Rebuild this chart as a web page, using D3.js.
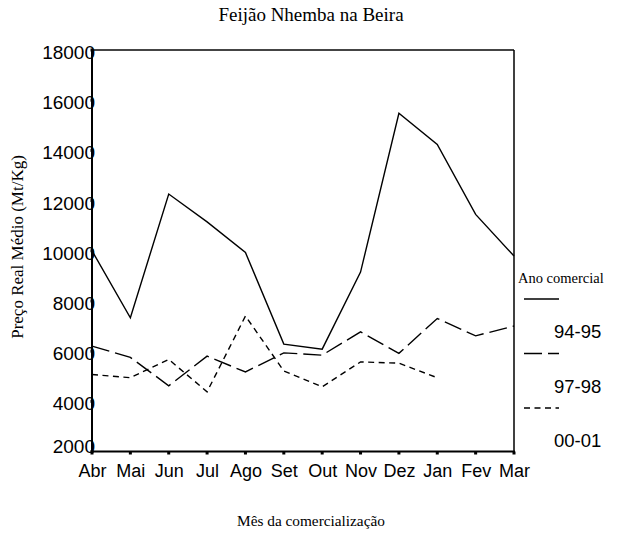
<!DOCTYPE html>
<html>
<head>
<meta charset="utf-8">
<script src="https://cdn.jsdelivr.net/npm/d3@7"></script>
<style>
  html, body { margin: 0; padding: 0; background: #fff; }
  svg { display: block; }
</style>
</head>
<body>
<svg id="chart" width="621" height="535"></svg>
<script>
const months = ["Abr","Mai","Jun","Jul","Ago","Set","Out","Nov","Dez","Jan","Fev","Mar"];
const seriesNames = ["94-95","97-98","00-01"];
const s9495 = [10000, 7330, 12260, 11150, 9930, 6280, 6080, 9150, 15480, 14240, 11450, 9790];
const s9798 = [6200, 5750, 4620, 5800, 5170, 5930, 5840, 6770, 5910, 7300, 6610, 7000];
const s0001 = [5070, 4940, 5670, 4380, 7400, 5210, 4580, 5570, 5520, 4940, null, null];
const yTicks = [2000, 4000, 6000, 8000, 10000, 12000, 14000, 16000, 18000];
const dashes = ["none", "18,6", "6,4.5"];

const titleText = "Feijão Nhemba na Beira";
const yTitle = "Preço Real Médio (Mt/Kg)";
const xTitle = "Mês da comercialização";
const legendTitle = "Ano comercial";

const svg = d3.select("#chart");
const L = 92, R = 514, T = 50, B = 451.5;

const x = d3.scalePoint().domain(months).range([L, R]);
const y = d3.scaleLinear().domain([2000, 18000]).range([B, T]);

const sans = "'Liberation Sans', Arial, sans-serif";
const serif = "'Liberation Serif', 'Times New Roman', serif";

// title
svg.append("text").attr("x", 311).attr("y", 21).attr("text-anchor", "middle")
  .attr("font-family", serif).attr("font-size", 19).text(titleText);

// frame
svg.append("line").attr("x1", L).attr("x2", R).attr("y1", T).attr("y2", T)
  .attr("stroke", "#444").attr("stroke-width", 2);
svg.append("line").attr("x1", R).attr("x2", R).attr("y1", T).attr("y2", B)
  .attr("stroke", "#000").attr("stroke-width", 1.5);

// lines
const allSeries = [s9495, s9798, s0001];
const line = d3.line()
  .defined(d => d.v != null)
  .x(d => x(d.m)).y(d => y(d.v));
allSeries.forEach((s, i) => {
  const data = months.map((m, j) => ({m, v: s[j]}));
  svg.append("path").datum(data).attr("d", line)
    .attr("fill", "none").attr("stroke", "#000").attr("stroke-width", 1.4)
    .attr("stroke-dasharray", dashes[i]);
});

// y axis
const yAxis = d3.axisLeft(y).tickValues(yTicks).tickSize(0).tickPadding(0).tickFormat(d3.format("d"));
const gy = svg.append("g").attr("transform", `translate(${L},0)`).call(yAxis);
gy.select(".domain").remove();
gy.selectAll("text").attr("font-family", sans).attr("font-size", 19).attr("fill", "#000")
  .attr("x", 3).attr("dy", "0.45em")
  .attr("y", d => d === yTicks[0] ? -8 : 0);
svg.append("line").attr("x1", L).attr("x2", L).attr("y1", T - 1).attr("y2", B + 1)
  .attr("stroke", "#000").attr("stroke-width", 2);
svg.selectAll(".ytm").data(yTicks).enter().append("rect")
  .attr("x", L - 1.5).attr("y", d => y(d) - 1.5).attr("width", 3).attr("height", 3).attr("fill", "#000");

// x axis
const xAxis = d3.axisBottom(x).tickSize(0).tickPadding(0);
const gx = svg.append("g").attr("transform", `translate(0,${B})`).call(xAxis);
gx.select(".domain").remove();
gx.selectAll("text").attr("font-family", sans).attr("font-size", 18).attr("fill", "#000")
  .attr("y", 25).attr("dy", 0);
svg.append("line").attr("x1", L - 1).attr("x2", R + 1).attr("y1", B).attr("y2", B)
  .attr("stroke", "#000").attr("stroke-width", 2);
svg.selectAll(".xtm").data(months).enter().append("rect")
  .attr("x", d => x(d) - 1.5).attr("y", B).attr("width", 3).attr("height", 3).attr("fill", "#000");

// axis titles
svg.append("text").attr("transform", "translate(23,247) rotate(-90)").attr("text-anchor", "middle")
  .attr("font-family", serif).attr("font-size", 17).text(yTitle);
svg.append("text").attr("x", 311).attr("y", 526).attr("text-anchor", "middle")
  .attr("font-family", serif).attr("font-size", 15.3).text(xTitle);

// legend
const lg = svg.append("g");
lg.append("text").attr("x", 518).attr("y", 283).attr("font-family", serif).attr("font-size", 14.5)
  .text(legendTitle);
seriesNames.forEach((n, i) => {
  const ly = 299 + i * 54.5;
  lg.append("line").attr("x1", 524).attr("x2", 559).attr("y1", ly).attr("y2", ly)
    .attr("stroke", "#000").attr("stroke-width", 1.4).attr("stroke-dasharray", dashes[i]);
  lg.append("text").attr("x", 554).attr("y", ly + 39).attr("font-family", sans).attr("font-size", 18.5)
    .text(n);
});
</script>
</body>
</html>
